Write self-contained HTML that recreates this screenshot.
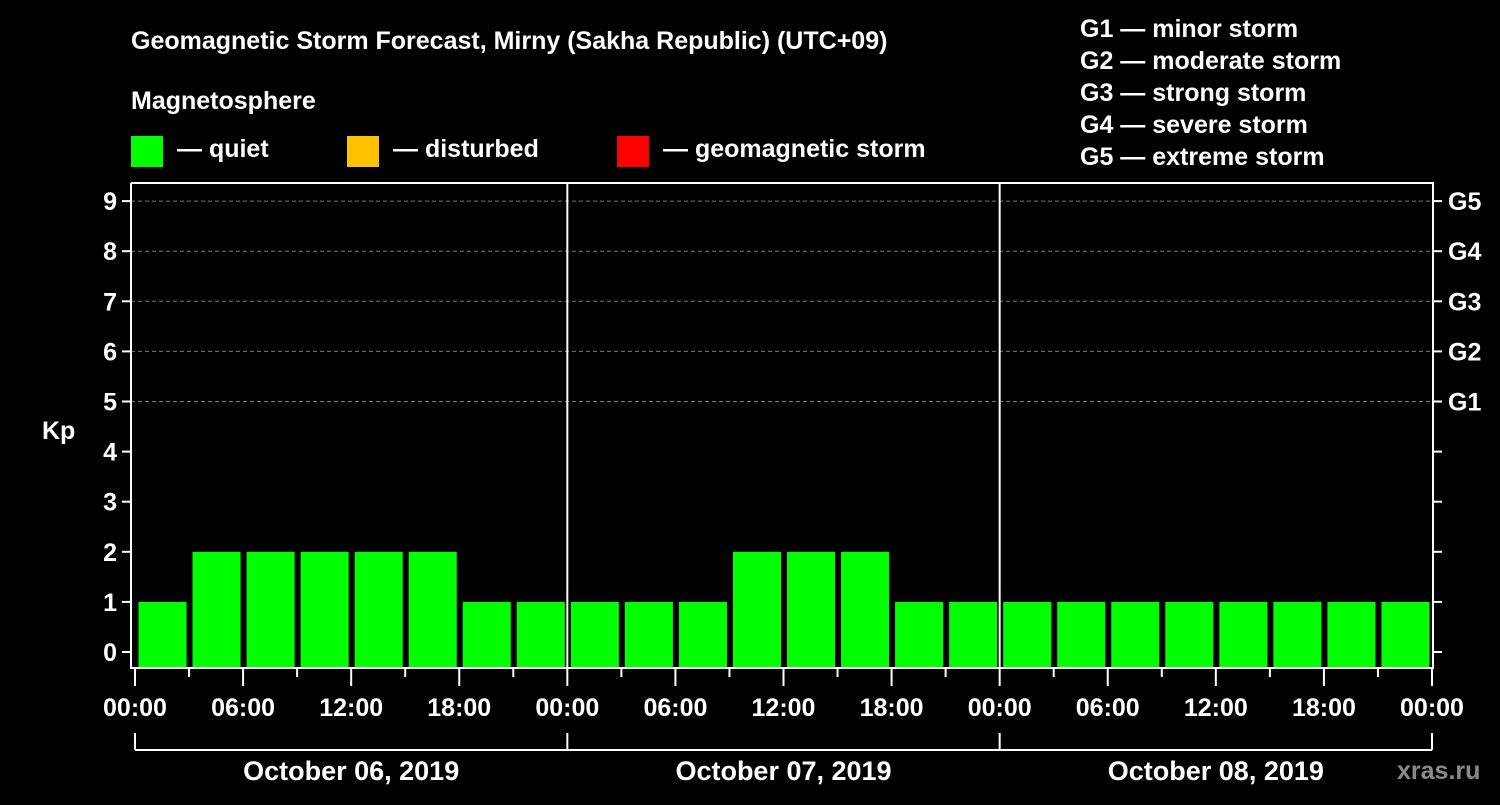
<!DOCTYPE html>
<html><head><meta charset="utf-8"><style>
body{margin:0;background:#000;width:1500px;height:800px;overflow:hidden}
svg text{font-family:"Liberation Sans",Arial,sans-serif;font-weight:bold;fill:#fff}
</style></head><body>
<svg id="c" width="1500" height="800">
<rect width="1500" height="800" fill="#000"/>
<text x="131" y="49" font-size="25">Geomagnetic Storm Forecast, Mirny (Sakha Republic) (UTC+09)</text>
<text x="131" y="109" font-size="25">Magnetosphere</text>
<rect x="131" y="136" width="32" height="31" fill="#00ff00"/>
<text x="177" y="157" font-size="25">— quiet</text>
<rect x="347" y="136" width="32" height="31" fill="#ffc000"/>
<text x="393" y="157" font-size="25">— disturbed</text>
<rect x="617" y="136" width="32" height="31" fill="#ff0000"/>
<text x="663" y="157" font-size="25">— geomagnetic storm</text>
<g>
<text x="1080" y="37" font-size="25">G1 — minor storm</text>
<text x="1080" y="69" font-size="25">G2 — moderate storm</text>
<text x="1080" y="101" font-size="25">G3 — strong storm</text>
<text x="1080" y="133" font-size="25">G4 — severe storm</text>
<text x="1080" y="165" font-size="25">G5 — extreme storm</text>
</g>
<text x="42" y="439" font-size="25">Kp</text>
<text x="1397" y="779" font-size="25" fill="#888" style="fill:#8a8a8a">xras.ru</text>
<g id="plot"></g>
</svg>
<script>
const kpValues=[1,2,2,2,2,2,1,1, 1,1,1,2,2,2,1,1, 1,1,1,1,1,1,1,1];
const dayLabels=["October 06, 2019","October 07, 2019","October 08, 2019"];
const hourLabels=["00:00","06:00","12:00","18:00"];
const gLabels=["G1","G2","G3","G4","G5"];
const NS="http://www.w3.org/2000/svg";
const g=document.getElementById('plot');
const X0=135,X1=1432,L=131,R=1433,T=183,B=668;
const nBars=kpValues.length;
const xs=i=>X0+(X1-X0)*i/nBars;
const ys=v=>652-v*50.1;
function el(t,a){const e=document.createElementNS(NS,t);for(const k in a)e.setAttribute(k,a[k]);g.appendChild(e);return e;}
// gridlines
for(let v=5;v<=9;v++){const e=el('line',{x1:L,x2:R,y1:ys(v),y2:ys(v),stroke:'#777','stroke-dasharray':'4,3'});

}
// bars
kpValues.forEach((v,i)=>{const c=v>=5?'#ff0000':(v>=4?'#ffc000':'#00ff00');
const e=el('rect',{x:xs(i)+3.5,y:ys(v),width:(X1-X0)/nBars-6,height:B-ys(v),fill:c});

});
// axes
el('polyline',{points:`${L},${T} ${L},${B} ${R},${B} ${R},${T} ${L},${T}`,fill:'none',stroke:'#fff','stroke-width':2});
// day separators
for(let d=1;d<dayLabels.length;d++){const x=xs(d*8);const e=el('line',{x1:x,x2:x,y1:T,y2:B,stroke:'#fff','stroke-width':2});

}
// y ticks
for(let v=0;v<=9;v++){const y=ys(v);
el('line',{x1:L-9,x2:L,y1:y,y2:y,stroke:'#fff','stroke-width':2});
el('line',{x1:R,x2:R+9,y1:y,y2:y,stroke:'#fff','stroke-width':2});
const t=el('text',{x:L-14,y:y+9,'font-size':25,'text-anchor':'end'});t.textContent=v;

}
gLabels.forEach((s,i)=>{const t=el('text',{x:1448,y:ys(5+i)+9,'font-size':25});t.textContent=s;

});
// x ticks
for(let i=0;i<=nBars;i++){const x=xs(i);const major=i%2===0;
el('line',{x1:x,x2:x,y1:B,y2:major?B+18:B+9,stroke:'#fff','stroke-width':2});
if(major){const t=el('text',{x:x,y:716,'font-size':25,'text-anchor':'middle'});t.textContent=hourLabels[(i/2)%4];

}}
// day brackets
el('line',{x1:xs(0),x2:xs(nBars),y1:750,y2:750,stroke:'#fff','stroke-width':2});
for(let d=0;d<=dayLabels.length;d++){const x=xs(d*8);el('line',{x1:x,x2:x,y1:733,y2:750,stroke:'#fff','stroke-width':2});}
dayLabels.forEach((s,d)=>{const t=el('text',{x:(xs(d*8)+xs(d*8+8))/2,y:780,'font-size':27,'text-anchor':'middle'});t.textContent=s;

});
</script>
</body></html>
